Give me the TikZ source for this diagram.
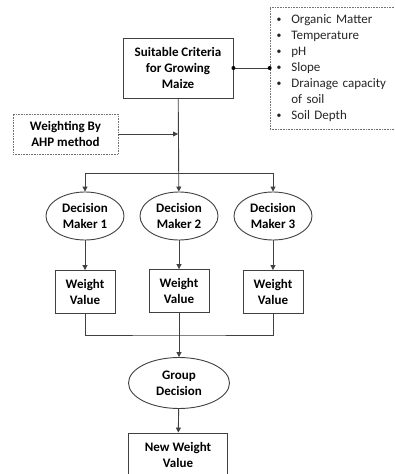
\documentclass[tikz,border=0pt]{standalone}
\usepackage{fontspec}
\setmainfont{Carlito}
\usetikzlibrary{positioning,shapes.geometric,arrows.meta}

\newcommand{\blt}{\raisebox{1pt}{\scalebox{0.75}{•}}}

\begin{document}
\begin{tikzpicture}[x=1pt, y=-1pt, line width=0.9pt, draw=black!75,
      font=\fontsize{13}{16}\selectfont\bfseries,
      box/.style = {draw, rectangle, align=center, inner sep=2pt},
      oval/.style = {draw, ellipse, align=center, inner sep=0pt},
      dotbox/.style = {draw=black!55, densely dotted, line width=0.6pt, rectangle},
      arr/.style = {-{Triangle[length=5pt, width=5pt]}}]
      \clip (0,0) rectangle (395,474);

      \node[box, minimum width=110, minimum height=60] (crit) at (178,68)
            {Suitable Criteria\\for Growing\\Maize};
      \node[dotbox, text width=112, inner xsep=6.5pt, minimum height=122,
            font=\fontsize{13}{16}\selectfont, text=black!85] (list) at (332.5,68)
            {\begin{tabular}{@{}l@{\hspace{10pt}}l@{}}
             \blt & Organic Matter\\
             \blt & Temperature\\
             \blt & pH\\
             \blt & Slope\\
             \blt & Drainage capacity\\
                  & of soil\\
             \blt & Soil Depth
             \end{tabular}};
      \node[dotbox, align=center, minimum width=105, minimum height=40] (ahp)
            at (65.5,134) {Weighting By\\AHP method};

      \node[oval, minimum width=78, minimum height=48] (dm1) at (85,216)
            {Decision\\Maker 1};
      \node[oval, minimum width=78, minimum height=48] (dm2) at (179,216)
            {Decision\\Maker 2};
      \node[oval, minimum width=78, minimum height=48] (dm3) at (273,216)
            {Decision\\Maker 3};

      \node[box, minimum width=60, minimum height=43] (wv1) at (85,292)
            {Weight\\Value};
      \node[box, minimum width=60, minimum height=43] (wv2) at (179,291)
            {Weight\\Value};
      \node[box, minimum width=60, minimum height=43] (wv3) at (273,292)
            {Weight\\Value};

      \node[oval, minimum width=101, minimum height=51] (grp) at (179,383)
            {Group\\Decision};
      \node[box, minimum width=99, minimum height=44] (nwv) at (178,455)
            {New Weight\\Value};

      \coordinate (split) at (179,173);
      \coordinate (join) at (179,335);

      \draw (crit.east) -- (list.west);
      \fill[black] (crit.east) circle (2pt);
      \fill[black] (list.west) circle (2pt);

      \draw[arr] (crit) -- (dm2);
      \draw[arr] (ahp.east) -- (ahp.east -| crit.south);
      \draw[arr] (split) -| (dm1);
      \draw[arr] (split) -| (dm3);

      \draw[arr] (dm1) -- (wv1);
      \draw[arr] (dm2) -- (wv2);
      \draw[arr] (dm3) -- (wv3);

      \draw (wv1) |- (join) -| (wv3);
      \draw (wv2) -- (join);
      \draw[arr] (join) -- (grp);
      \draw[arr] (grp) -- (nwv);
    \end{tikzpicture}
\end{document}
